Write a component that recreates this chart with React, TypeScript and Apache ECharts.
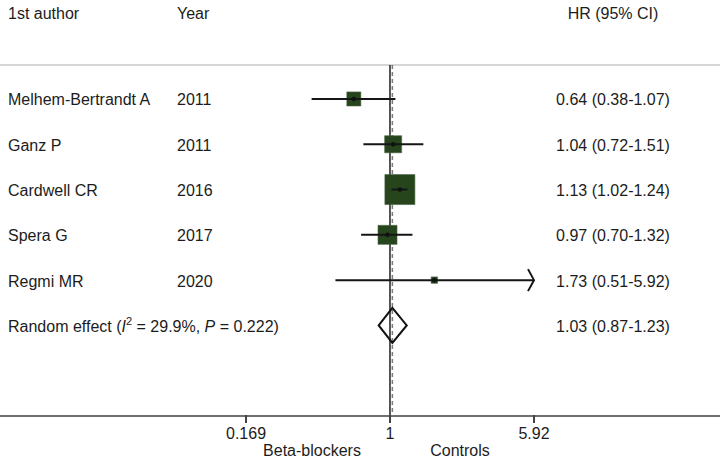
import React, { useEffect, useRef } from "react";
import * as echarts from "echarts";

// ---- data ----
const authors = ["Melhem-Bertrandt A", "Ganz P", "Cardwell CR", "Spera G", "Regmi MR"];
const years = ["2011", "2011", "2016", "2017", "2020"];
const hrValues = [0.64, 1.04, 1.13, 0.97, 1.73];
const lowerCI = [0.38, 0.72, 1.02, 0.7, 0.51];
const upperCI = [1.07, 1.51, 1.24, 1.32, 5.92];
const weights = [11.0, 16.2, 50.3, 20.2, 2.3];
const pooledLabel = "Random effect";
const pooledI2 = "29.9%";
const pooledP = "0.222";
const pooledHR = [1.03];
const pooledLower = [0.87];
const pooledUpper = [1.23];
const tickValues = [0.169, 1, 5.92];
const tickLabels = ["0.169", "1", "5.92"];
const nullValue = 1;
const headers = ["1st author", "Year", "HR (95% CI)"];
const favourLabels = ["Beta-blockers", "Controls"];

const fmt = (v: number) => v.toFixed(2);

export default function App() {
  const ref = useRef<HTMLDivElement>(null);

  useEffect(() => {
    const chart = echarts.init(ref.current!, null, { renderer: "svg" });
    const FONT = "'Liberation Sans', Arial, Helvetica, sans-serif";
    const TEXT = "#1c1c1c";
    const xMin = Math.log(tickValues[0]);
    const xMax = Math.log(tickValues[tickValues.length - 1]);
    const yMin = -0.75;
    const yMax = 7;
    const COL_AUTHOR = 8;
    const COL_YEAR = 177;
    const COL_HR = 613;
    const BOX_K = 4.23;
    const DIAMOND_H = 17.5;
    const TICK_LEN = 8;
    const pooledRow = authors.length;

    const txt = (x: number, y: number, text: string, align = "left") => ({
      type: "text",
      x,
      y,
      style: { text, fill: TEXT, fontSize: 16, fontFamily: FONT, align, verticalAlign: "middle" },
    });

    const studyData = hrValues.map((v, i) => [
      Math.log(v),
      i,
      Math.log(lowerCI[i]),
      Math.log(upperCI[i]),
      weights[i],
    ]);
    const pooledData = pooledHR.map((v, i) => [
      Math.log(v),
      pooledRow,
      Math.log(pooledLower[i]),
      Math.log(pooledUpper[i]),
    ]);
    const tickData = tickValues.map((t) => [Math.log(t), yMax]);

    const baseRich = { fontSize: 16, fontFamily: FONT, fill: TEXT, lineHeight: 22, verticalAlign: "middle" };

    const option: any = {
      animation: false,
      grid: { left: 246, right: 186, top: 65, bottom: 43 },
      xAxis: {
        type: "value",
        position: "bottom",
        min: xMin,
        max: xMax,
        axisLine: { show: false, onZero: false },
        splitLine: { show: false },
        axisTick: { show: false },
        axisLabel: {
          customValues: tickValues.map((v) => Math.log(v)),
          margin: 9,
          fontSize: 16,
          fontFamily: FONT,
          color: TEXT,
          formatter: (val: number) => {
            let best = 0;
            tickValues.forEach((t, k) => {
              if (Math.abs(Math.log(t) - val) < Math.abs(Math.log(tickValues[best]) - val)) best = k;
            });
            return tickLabels[best];
          },
        },
      },
      yAxis: { type: "value", min: yMin, max: yMax, inverse: true, show: false },
      graphic: [
        { type: "line", shape: { x1: 0, y1: 65, x2: 720, y2: 65 }, style: { stroke: "#d6d6d6", lineWidth: 2 } },
        { type: "line", shape: { x1: 0, y1: 416, x2: 720, y2: 416 }, style: { stroke: "#707070", lineWidth: 2 } },
        txt(COL_AUTHOR, 13, headers[0]),
        txt(COL_YEAR, 13, headers[1]),
        txt(COL_HR, 13, headers[2], "center"),
        txt(312, 450, favourLabels[0], "center"),
        txt(460, 450, favourLabels[1], "center"),
      ],
      series: [
        {
          type: "custom",
          z: 5,
          clip: false,
          data: tickData,
          encode: { x: 0, y: 1 },
          renderItem: (params: any, api: any) => {
            const p = api.coord([api.value(0), api.value(1)]);
            return {
              type: "rect",
              shape: { x: p[0] - 1, y: p[1] - 1, width: 2, height: TICK_LEN },
              style: { fill: "#444444" },
            };
          },
        },
        {
          type: "custom",
          z: 1,
          clip: false,
          silent: true,
          data: [[0, 0]],
          renderItem: (params: any, api: any) => {
            const a = api.coord([Math.log(nullValue), yMin]);
            const b = api.coord([Math.log(nullValue), yMax]);
            const c = api.coord([Math.log(pooledHR[0]), yMin]);
            const d = api.coord([Math.log(pooledHR[0]), yMax]);
            return {
              type: "group",
              children: [
                { type: "line", shape: { x1: a[0], y1: a[1], x2: b[0], y2: b[1] }, style: { stroke: "#1e1e1e", lineWidth: 1.5 } },
                { type: "line", shape: { x1: c[0], y1: c[1], x2: d[0], y2: d[1] }, style: { stroke: "#7a7a7a", lineWidth: 1.5, lineDash: [4, 3] } },
              ],
            };
          },
        },
        {
          type: "custom",
          z: 2,
          clip: false,
          silent: true,
          data: studyData,
          encode: { x: 0, y: 1 },
          renderItem: (params: any, api: any) => {
            const i = params.dataIndex;
            const c = api.coord([api.value(0), api.value(1)]);
            const l = api.coord([api.value(2), api.value(1)]);
            const h = api.coord([api.value(3), api.value(1)]);
            const s = Math.sqrt(api.value(4)) * BOX_K;
            const children: any[] = [
              { type: "rect", shape: { x: c[0] - s / 2, y: c[1] - s / 2, width: s, height: s }, style: { fill: "#26451d", stroke: "#4a6243", lineWidth: 0.6 } },
              { type: "line", shape: { x1: l[0], y1: l[1], x2: h[0], y2: h[1] }, style: { stroke: "#151515", lineWidth: 2 } },
              { type: "circle", shape: { cx: c[0], cy: c[1], r: 2.3 }, style: { fill: "#111" } },
              txt(COL_AUTHOR, c[1] + 1, authors[i]),
              txt(COL_YEAR, c[1] + 1, years[i]),
              txt(COL_HR, c[1] + 1, `${fmt(hrValues[i])} (${fmt(lowerCI[i])}-${fmt(upperCI[i])})`, "center"),
            ];
            if (api.value(3) >= xMax - 1e-9) {
              children.push({
                type: "polyline",
                shape: { points: [[h[0] - 6, h[1] - 11], [h[0], h[1]], [h[0] - 6, h[1] + 11]] },
                style: { stroke: "#151515", lineWidth: 2, fill: "none" },
              });
            }
            return { type: "group", children };
          },
        },
        {
          type: "custom",
          z: 2,
          clip: false,
          silent: true,
          data: pooledData,
          encode: { x: 0, y: 1 },
          renderItem: (params: any, api: any) => {
            const i = params.dataIndex;
            const c = api.coord([api.value(0), api.value(1)]);
            const l = api.coord([api.value(2), api.value(1)]);
            const h = api.coord([api.value(3), api.value(1)]);
            return {
              type: "group",
              children: [
                {
                  type: "polygon",
                  shape: { points: [[l[0], c[1]], [c[0], c[1] - DIAMOND_H], [h[0], c[1]], [c[0], c[1] + DIAMOND_H]] },
                  style: { fill: "none", stroke: "#111", lineWidth: 2 },
                },
                {
                  type: "text",
                  x: COL_AUTHOR,
                  y: c[1] + 1,
                  style: {
                    text: `{n|${pooledLabel} (}{i|I}{s|2}{n| = ${pooledI2}, }{i|P}{n| = ${pooledP})}`,
                    align: "left",
                    verticalAlign: "middle",
                    fontSize: 16,
                    fontFamily: FONT,
                    fill: TEXT,
                    rich: {
                      n: { ...baseRich },
                      i: { ...baseRich, fontStyle: "italic" },
                      s: { fontSize: 11, fontFamily: FONT, fill: TEXT, lineHeight: 11, verticalAlign: "top" },
                    },
                  },
                },
                txt(COL_HR, c[1] + 1, `${fmt(pooledHR[i])} (${fmt(pooledLower[i])}-${fmt(pooledUpper[i])})`, "center"),
              ],
            };
          },
        },
      ],
    };

    chart.setOption(option);
    return () => chart.dispose();
  }, []);

  return <div ref={ref} style={{ position: "fixed", left: 0, top: 0, width: 720, height: 459, background: "#fff" }} />;
}
